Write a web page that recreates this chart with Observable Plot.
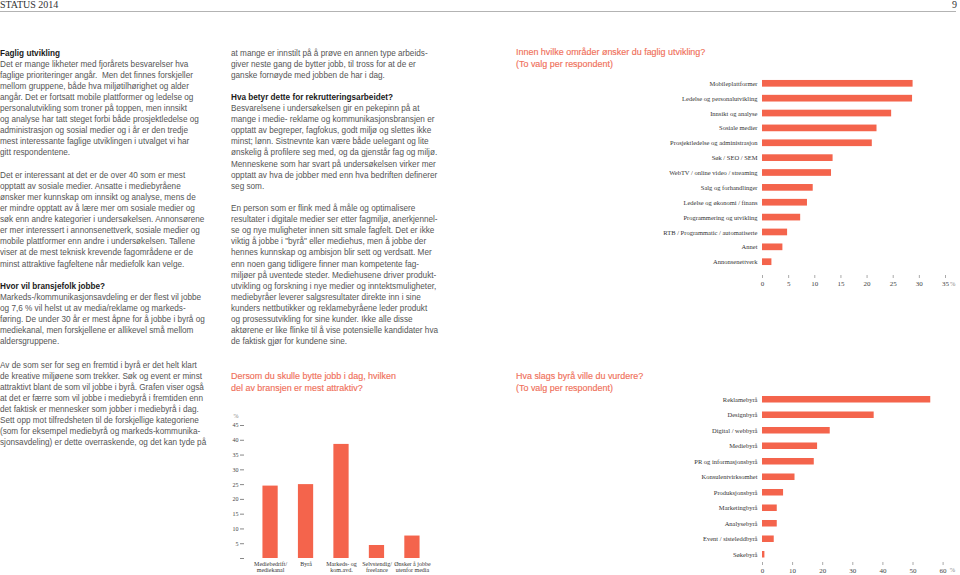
<!DOCTYPE html>
<html><head><meta charset="utf-8">
<script src="https://cdn.jsdelivr.net/npm/d3@7"></script>
<script src="https://cdn.jsdelivr.net/npm/@observablehq/plot@0.6"></script>
<style>
body{margin:0;width:960px;height:575px;overflow:hidden;background:#fff;position:relative;font-family:"Liberation Sans",Arial,sans-serif;}
.hdr{position:absolute;top:0;font-family:"Liberation Serif",serif;font-size:10px;line-height:10px;color:#333;}
.rule{position:absolute;left:0;top:10.5px;width:956px;height:1.5px;background:#b3b3b3;}
.col{position:absolute;font-size:8.2px;line-height:11.12px;color:#555;white-space:nowrap;}
.col b{color:#1a1a1a;}
.col div{height:11.12px;}
.ttl{position:absolute;font-size:8.95px;line-height:12px;color:#f0705a;white-space:nowrap;-webkit-text-stroke:0.15px #f0705a;}
.chart{position:absolute;}
.chart svg{overflow:visible;}
</style></head>
<body>
<div class="hdr" style="left:0">STATUS 2014</div>
<div class="hdr" style="left:952px">9</div>
<div class="rule"></div>

<div class="col" style="left:0;top:47.5px">
<div><b>Faglig utvikling</b></div>
<div>Det er mange likheter med fjorårets besvarelser hva</div>
<div>faglige prioriteringer angår.&nbsp; Men det finnes forskjeller</div>
<div>mellom gruppene, både hva miljøtilhørighet og alder</div>
<div>angår. Det er fortsatt mobile plattformer og ledelse og</div>
<div>personalutvikling som troner på toppen, men innsikt</div>
<div>og analyse har tatt steget forbi både prosjektledelse og</div>
<div>administrasjon og sosial medier og i år er den tredje</div>
<div>mest interessante faglige utviklingen i utvalget vi har</div>
<div>gitt respondentene.</div>
<div></div>
<div>Det er interessant at det er de over 40 som er mest</div>
<div>opptatt av sosiale medier. Ansatte i mediebyråene</div>
<div>ønsker mer kunnskap om innsikt og analyse, mens de</div>
<div>er mindre opptatt av å lære mer om sosiale medier og</div>
<div>søk enn andre kategorier i undersøkelsen. Annonsørene</div>
<div>er mer interessert i annonsenettverk, sosiale medier og</div>
<div>mobile plattformer enn andre i undersøkelsen. Tallene</div>
<div>viser at de mest teknisk krevende fagområdene er de</div>
<div>minst attraktive fagfeltene når mediefolk kan velge.</div>
<div></div>
<div><b>Hvor vil bransjefolk jobbe?</b></div>
<div>Markeds-/kommunikasjonsavdeling er der flest vil jobbe</div>
<div>og 7,6 % vil helst ut av media/reklame og markeds-</div>
<div>føring. De under 30 år er mest åpne for å jobbe i byrå og</div>
<div>mediekanal, men forskjellene er allikevel små mellom</div>
<div>aldersgruppene.</div>
</div>

<div class="col" style="left:0;top:359.5px">
<div>Av de som ser for seg en fremtid i byrå er det helt klart</div>
<div>de kreative miljøene som trekker. Søk og event er minst</div>
<div>attraktivt blant de som vil jobbe i byrå. Grafen viser også</div>
<div>at det er færre som vil jobbe i mediebyrå i fremtiden enn</div>
<div>det faktisk er mennesker som jobber i mediebyrå i dag.</div>
<div>Sett opp mot tilfredsheten til de forskjellige kategoriene</div>
<div>(som for eksempel mediebyrå og markeds-kommunika-</div>
<div>sjonsavdeling) er dette overraskende, og det kan tyde på</div>
</div>

<div class="col" style="left:231px;top:47.5px">
<div>at mange er innstilt på å prøve en annen type arbeids-</div>
<div>giver neste gang de bytter jobb, til tross for at de er</div>
<div>ganske fornøyde med jobben de har i dag.</div>
<div></div>
<div><b>Hva betyr dette for rekrutteringsarbeidet?</b></div>
<div>Besvarelsene i undersøkelsen gir en pekepinn på at</div>
<div>mange i medie- reklame og kommunikasjonsbransjen er</div>
<div>opptatt av begreper, fagfokus, godt miljø og slettes ikke</div>
<div>minst; lønn. Sistnevnte kan være både uelegant og lite</div>
<div>ønskelig å profilere seg med, og da gjenstår fag og miljø.</div>
<div>Menneskene som har svart på undersøkelsen virker mer</div>
<div>opptatt av hva de jobber med enn hva bedriften definerer</div>
<div>seg som.</div>
<div></div>
<div>En person som er flink med å måle og optimalisere</div>
<div>resultater i digitale medier ser etter fagmiljø, anerkjennel-</div>
<div>se og nye muligheter innen sitt smale fagfelt. Det er ikke</div>
<div>viktig å jobbe i "byrå" eller mediehus, men å jobbe der</div>
<div>hennes kunnskap og ambisjon blir sett og verdsatt. Mer</div>
<div>enn noen gang tidligere finner man kompetente fag-</div>
<div>miljøer på uventede steder. Mediehusene driver produkt-</div>
<div>utvikling og forskning i nye medier og inntektsmuligheter,</div>
<div>mediebyråer leverer salgsresultater direkte inn i sine</div>
<div>kunders nettbutikker og reklamebyråene leder produkt</div>
<div>og prosessutvikling for sine kunder. Ikke alle disse</div>
<div>aktørene er like flinke til å vise potensielle kandidater hva</div>
<div>de faktisk gjør for kundene sine.</div>
</div>

<div class="ttl" style="left:516px;top:46px">Innen hvilke områder ønsker du faglig utvikling?<br>(To valg per respondent)</div>
<div class="ttl" style="left:231px;top:371px;line-height:11.6px">Dersom du skulle bytte jobb i dag, hvilken<br>del av bransjen er mest attraktiv?</div>
<div class="ttl" style="left:516px;top:370px">Hva slags byrå ville du vurdere?<br>(To valg per respondent)</div>

<div id="c1" class="chart" style="left:510px;top:60px"></div>
<div id="c2" class="chart" style="left:225px;top:400px"></div>
<div id="c3" class="chart" style="left:510px;top:385px"></div>

<script>
// Chart 1: Innen hvilke områder ønsker du faglig utvikling?
const areas = ["Mobileplattformer","Ledelse og personalutvikling","Innsikt og analyse","Sosiale medier","Prosjektledelse og administrasjon","Søk / SEO / SEM","WebTV / online video / streaming","Salg og forhandlinger","Ledelse og økonomi / finans","Programmering og utvikling","RTB / Programmatic / automatiserte","Annet","Annonsenettverk"];
const areaValues = [28.8,28.7,24.7,21.9,21.0,13.5,13.2,9.7,8.6,7.3,4.8,3.9,1.8];
const areaTicks = [0,5,10,15,20,25,30,35];

// Chart 2: Dersom du skulle bytte jobb i dag ...
const sectors = ["Mediebedrift/\nmediekanal","Byrå","Markeds- og\nkom.avd.","Selvstendig/\nfreelance","Ønsker å jobbe\nutenfor media"];
const sectorValues = [24.5,25.0,38.6,4.4,7.6];
const sectorTicks = [0,5,10,15,20,25,30,35,40,45];

// Chart 3: Hva slags byrå ville du vurdere?
const agencies = ["Reklamebyrå","Designbyrå","Digital / webbyrå","Mediebyrå","PR og informasjonsbyrå","Konsulentvirksomhet","Produksjonsbyrå","Marketingbyrå","Analysebyrå","Event / sisteleddbyrå","Søkebyrå"];
const agencyValues = [55.9,37.1,22.5,18.3,17.2,10.8,7.0,4.9,4.9,3.9,0.8];
const agencyTicks = [0,10,20,30,40,50,60];

const unit = "%";
const barColor = "#f4644c";
const serif = "'Liberation Serif', 'DejaVu Serif', serif";

const areaData = areas.map((label, i) => ({label, value: areaValues[i]}));
const sectorData = sectors.map((label, i) => ({label, value: sectorValues[i]}));
const agencyData = agencies.map((label, i) => ({label, value: agencyValues[i]}));

function hbar(data, domainMax, ticks, opts) {
  return Plot.plot({
    width: 450, height: opts.height,
    marginLeft: 252, marginRight: opts.marginRight, marginTop: opts.marginTop, marginBottom: opts.marginBottom,
    style: {fontFamily: serif, fontSize: "6.5px", background: "transparent", color: "#444"},
    x: {domain: [0, domainMax], round: false},
    y: {domain: data.map(d => d.label), paddingInner: opts.pi, paddingOuter: opts.po, round: false},
    marks: [
      Plot.barX(data, {x: "value", y: "label", fill: barColor}),
      Plot.axisX({ticks, tickSize: 3, tickPadding: 2.5, stroke: "#aaa", fill: "#444", label: null, fontSize: 7}),
      Plot.axisY({tickSize: 0, tickPadding: 5, fill: "#333", label: null}),
      Plot.text([unit], {frameAnchor: "bottom-right", dx: opts.pdx, dy: opts.pdy, fill: "#888", fontSize: 6.5})
    ]
  });
}

document.getElementById("c1").append(hbar(areaData, 35, areaTicks,
  {height: 235, marginRight: 15, marginTop: 10, marginBottom: 20, pi: 0.55, po: 0.67, pdx: 10, pdy: 10}));

document.getElementById("c3").append(hbar(agencyData, 60, agencyTicks,
  {height: 190, marginRight: 17.4, marginTop: 6.5, marginBottom: 13, pi: 0.58, po: 0.29, pdx: 12, pdy: 9.5}));

document.getElementById("c2").append(Plot.plot({
  width: 255, height: 175,
  marginLeft: 19, marginRight: 42, marginTop: 25, marginBottom: 17,
  style: {fontFamily: serif, fontSize: "6px", background: "transparent", color: "#444"},
  x: {domain: sectors, paddingInner: 0.57, paddingOuter: 0.52, round: false},
  y: {domain: [0, 45], round: false},
  marks: [
    Plot.barY(sectorData, {x: "label", y: "value", fill: barColor}),
    Plot.axisY({ticks: sectorTicks, tickFormat: d => d === 0 ? "" : d, tickSize: 4, tickPadding: 2, stroke: "#888", fill: "#444", label: null}),
    Plot.axisX({tickSize: 0, tickPadding: 3, fill: "#333", label: null, lineHeight: 1}),
    Plot.text([unit], {frameAnchor: "top-left", dx: -11, dy: -12, fill: "#888", fontSize: 6})
  ]
}));
</script>
</body></html>
